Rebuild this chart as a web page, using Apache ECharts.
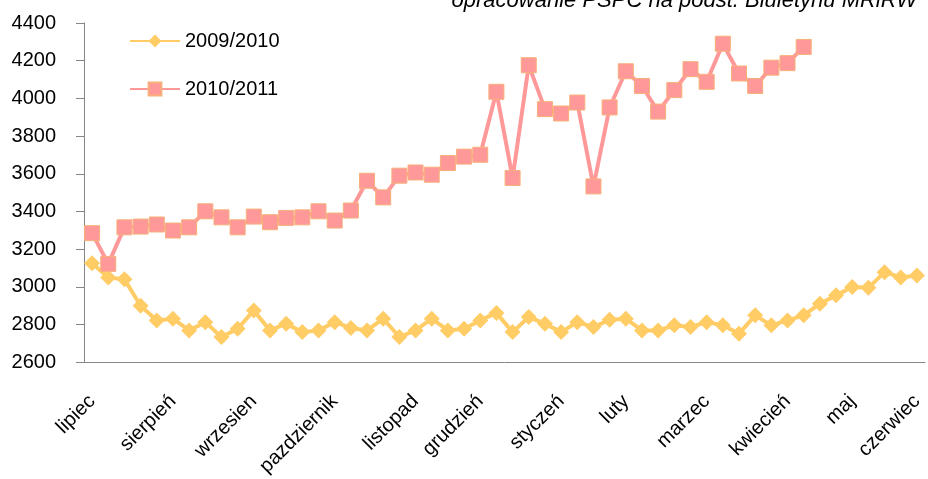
<!DOCTYPE html>
<html>
<head>
<meta charset="utf-8">
<script src="https://cdn.jsdelivr.net/npm/echarts@6/dist/echarts.min.js"></script>
<style>
  html, body { margin: 0; padding: 0; background: #fff; }
  #chart { width: 928px; height: 479px; }
</style>
</head>
<body>
<div id="chart"></div>
<script>
// weekly prices, season July - June (52 weeks)
var weeks = [
  'lipiec', '', '', '', '', 'sierpień', '', '', '', '',
  'wrzesien', '', '', '', '', 'pazdziernik', '', '', '', '',
  'listopad', '', '', '', 'grudzień', '', '', '', '', 'styczeń',
  '', '', '', 'luty', '', '', '', '', 'marzec', '',
  '', '', '', 'kwiecień', '', '', '', 'maj', '', '',
  '', 'czerwiec'
];

var s2009 = [
  3125, 3050, 3040, 2900, 2822, 2831, 2769, 2813, 2734, 2778,
  2875, 2769, 2805, 2760, 2769, 2813, 2782, 2769, 2831, 2734,
  2769, 2831, 2769, 2778, 2822, 2862, 2760, 2840, 2805, 2760,
  2813, 2787, 2825, 2831, 2769, 2769, 2796, 2787, 2813, 2796,
  2752, 2849, 2796, 2822, 2849, 2911, 2955, 2999, 2995, 3078,
  3050, 3060
];

var s2010 = [
  3285, 3122, 3316, 3320, 3331, 3299, 3316, 3401, 3369, 3316,
  3373, 3343, 3366, 3369, 3401, 3352, 3405, 3563, 3475, 3590,
  3607, 3595, 3657, 3691, 3701, 4035, 3578, 4176, 3943, 3920,
  3978, 3533, 3952, 4144, 4066, 3930, 4044, 4155, 4088, 4290,
  4132, 4066, 4163, 4187, 4273
];

var yTicks = [2600, 4400, 200]; // min, max, step

var myChart = echarts.init(document.getElementById('chart'));

var font = '"Liberation Sans", Arial, sans-serif';
var axisGrey = '#868686';

option = {
  animation: false,
  title: {
    text: 'opracowanie PSPC na podst. Biuletynu MRiRW',
    right: 6,
    top: -15,
    textStyle: {
      fontFamily: font,
      fontSize: 22,
      fontStyle: 'italic',
      fontWeight: 'normal',
      color: '#000'
    }
  },
  legend: {
    orient: 'vertical',
    left: 124,
    top: 26,
    itemWidth: 50,
    itemHeight: 16,
    itemGap: 28,
    textStyle: { fontFamily: font, fontSize: 20, color: '#000' },
    data: ['2009/2010', '2010/2011']
  },
  grid: {
    left: 84,
    right: 3,
    top: 23,
    bottom: 116
  },
  xAxis: {
    type: 'category',
    data: weeks,
    boundaryGap: true,
    axisLine: { lineStyle: { color: axisGrey, width: 1 } },
    axisTick: { show: false },
    axisLabel: {
      interval: 0,
      rotate: 45,
      margin: 36,
      fontFamily: font,
      fontSize: 20,
      color: '#000'
    }
  },
  yAxis: {
    type: 'value',
    min: yTicks[0],
    max: yTicks[1],
    interval: yTicks[2],
    splitLine: { show: false },
    axisLine: { show: true, lineStyle: { color: axisGrey, width: 1 } },
    axisTick: { show: true, length: 8, lineStyle: { color: axisGrey } },
    axisLabel: {
      margin: 28,
      fontFamily: font,
      fontSize: 20,
      color: '#000',
      formatter: function (v) { return String(v); }
    }
  },
  series: [
    {
      name: '2009/2010',
      type: 'line',
      data: s2009,
      symbol: 'diamond',
      symbolSize: 16,
      lineStyle: { color: '#FFCC66', width: 4 },
      itemStyle: { color: '#FFCC66' }
    },
    {
      name: '2010/2011',
      type: 'line',
      data: s2010,
      symbol: 'rect',
      symbolSize: 15,
      lineStyle: { color: '#FF9999', width: 4 },
      itemStyle: { color: '#FF9999', borderColor: '#F7B07A', borderWidth: 1 }
    }
  ]
};

myChart.setOption(option);
</script>
</body>
</html>
